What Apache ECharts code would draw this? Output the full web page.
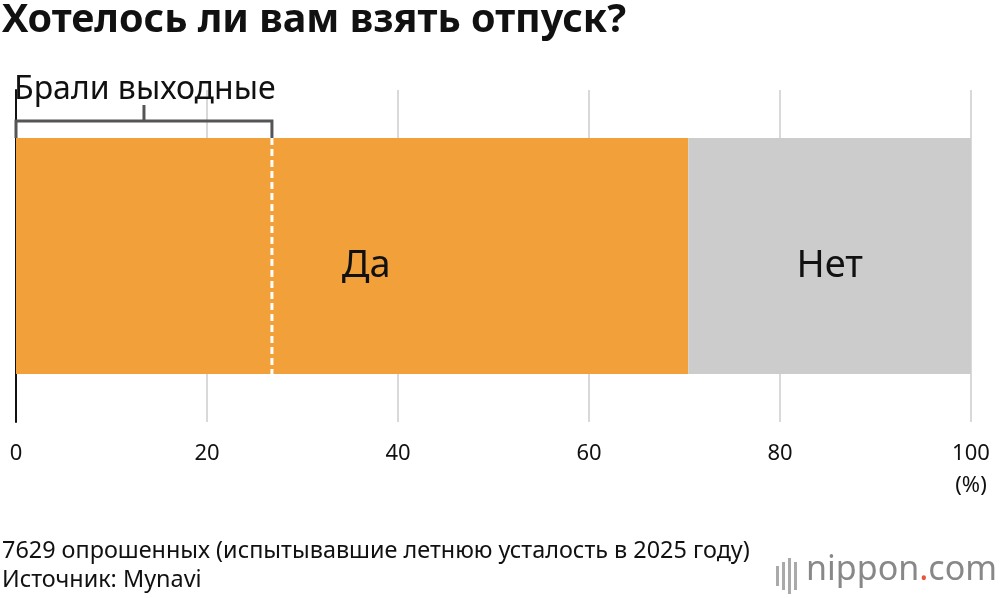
<!DOCTYPE html>
<html><head><meta charset="utf-8">
<script src="https://cdn.jsdelivr.net/npm/echarts@6/dist/echarts.min.js"></script>
<style>html,body{margin:0;padding:0;background:#fff}#c{width:1000px;height:598px}</style>
</head><body><div id="c"></div>
<script>
const categories = ['Хотелось'];
const yesValues = [70.4];
const noValues = [29.6];
const weekendShare = 26.8;
const tickLabels = [0, 20, 40, 60, 80, 100];
const F = '"Noto Sans", sans-serif';
const chart = echarts.init(document.getElementById('c'));
chart.setOption({
  animation: false,
  grid: {left: 16, right: 29, top: 90, bottom: 176},
  xAxis: {type: 'value', min: 0, max: 100, interval: 20,
    axisLine: {show: false}, axisTick: {show: false},
    splitLine: {lineStyle: {color: '#cccccc', width: 1.5}},
    axisLabel: {fontFamily: F, fontSize: 22, color: '#111', margin: 16,
      lineHeight: 32, verticalAlign: 'top',
      formatter: v => v === 100 ? '100\n(%)' : String(v)}},
  yAxis: {type: 'category', data: categories, axisTick: {show: false}, axisLabel: {show: false},
    axisLine: {lineStyle: {color: '#111', width: 2}}},
  series: [
    {type: 'bar', stack: 's', data: yesValues, barWidth: 236, itemStyle: {color: '#f2a03a'},
     label: {show: true, formatter: 'Да', fontFamily: F, fontSize: 38, color: '#111', offset: [14, 10]}},
    {type: 'bar', stack: 's', data: noValues, barWidth: 236, itemStyle: {color: '#cccccc'},
     label: {show: true, formatter: 'Нет', fontFamily: F, fontSize: 38, color: '#111', offset: [0, 10]}},
    {type: 'custom', data: [[weekendShare, 0]], z: 10,
     renderItem: (params, api) => {
       const p = api.coord([api.value(0), 0]);
       const p0 = api.coord([0, 0]);
       const top = p[1] - 118, bot = p[1] + 118;
       const by = top - 17;
       const mid = (p0[0] + p[0]) / 2;
       return {type: 'group', children: [
         {type: 'line', shape: {x1: p[0], y1: top, x2: p[0], y2: bot},
          style: {stroke: '#fff', lineWidth: 3, lineDash: [7, 4]}},
         {type: 'polyline', shape: {points: [[p0[0], top], [p0[0], by], [p[0], by], [p[0], top]]},
          style: {stroke: '#555', lineWidth: 3, fill: null}},
         {type: 'line', shape: {x1: mid, y1: by, x2: mid, y2: by - 16},
          style: {stroke: '#555', lineWidth: 3}},
         {type: 'text', style: {text: 'Брали выходные', x: p0[0] - 2, y: by - 15, fontFamily: F,
          fontSize: 32, fill: '#111', verticalAlign: 'bottom'}}
       ]};
     }}
  ],
  graphic: [
    {type: 'text', left: 2, top: 1, style: {text: 'Хотелось ли вам взять отпуск?', fontFamily: F, fontSize: 39.5, fontWeight: 'bold', fill: '#111'}},
    {type: 'text', left: 2, top: 537, style: {text: '7629 опрошенных (испытывавшие летнюю усталость в 2025 году)\nИсточник: Mynavi', fontFamily: F, fontSize: 23.4, lineHeight: 29, fill: '#111'}},
    {type: 'rect', left: 776, top: 566, shape: {width: 3, height: 20}, style: {fill: '#aaa'}},
    {type: 'rect', left: 782, top: 562, shape: {width: 3, height: 28}, style: {fill: '#aaa'}},
    {type: 'rect', left: 788, top: 558, shape: {width: 3, height: 36}, style: {fill: '#aaa'}},
    {type: 'rect', left: 794, top: 562, shape: {width: 3, height: 28}, style: {fill: '#aaa'}},
    {type: 'text', right: 3, top: 553, style: {rich: {a: {fontFamily: F, fontSize: 34, fill: '#888'}, b: {fontFamily: F, fontSize: 34, fill: '#e8563a'}}, text: '{a|nippon}{b|.}{a|com}'}}
  ]
});
</script></body></html>
